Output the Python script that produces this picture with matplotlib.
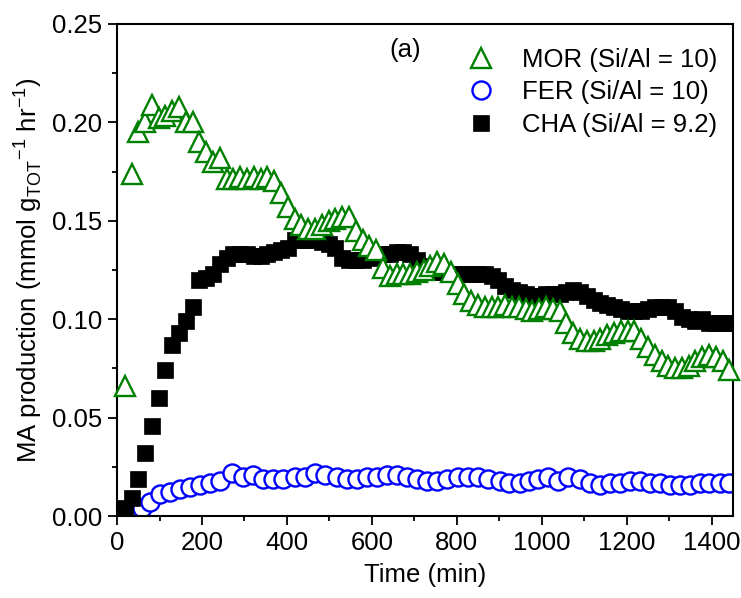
import numpy as np
import matplotlib
matplotlib.use('Agg')
import matplotlib.pyplot as plt
from matplotlib.ticker import MultipleLocator

plt.rcParams['font.family'] = ['Liberation Sans', 'DejaVu Sans']
plt.rcParams['mathtext.fontset'] = 'custom'
plt.rcParams['mathtext.rm'] = 'Liberation Sans'

# Time grid shared by MOR and CHA (min)
t_mc = [18, 34, 50, 66, 82, 98, 114, 130, 146, 162,
        178, 194, 210, 226, 242, 258, 274, 290, 306, 322,
        338, 354, 370, 386, 402, 418, 434, 450, 466, 482,
        498, 514, 530, 546, 562, 578, 594, 610, 626, 642,
        658, 674, 690, 706, 722, 738, 754, 770, 786, 802,
        818, 834, 850, 866, 882, 898, 914, 930, 946, 962,
        978, 994, 1010, 1026, 1042, 1058, 1074, 1090, 1106, 1122,
        1138, 1154, 1170, 1186, 1202, 1218, 1234, 1250, 1266, 1282,
        1298, 1314, 1330, 1346, 1362, 1378, 1394, 1410, 1426, 1442]

mor = [0.066, 0.174, 0.195, 0.200, 0.209, 0.202, 0.203, 0.206, 0.208, 0.200,
       0.200, 0.190, 0.185, 0.180, 0.182, 0.171, 0.171, 0.172, 0.171, 0.172,
       0.171, 0.172, 0.170, 0.164, 0.157, 0.151, 0.148, 0.146, 0.146, 0.148,
       0.150, 0.151, 0.152, 0.152, 0.145, 0.140, 0.137, 0.135, 0.126, 0.122,
       0.123, 0.123, 0.123, 0.124, 0.125, 0.127, 0.129, 0.128, 0.124, 0.118,
       0.113, 0.109, 0.107, 0.106, 0.106, 0.106, 0.107, 0.106, 0.106, 0.105,
       0.104, 0.105, 0.106, 0.105, 0.104, 0.098, 0.093, 0.090, 0.089, 0.089,
       0.090, 0.092, 0.093, 0.094, 0.094, 0.094, 0.090, 0.086, 0.082, 0.079,
       0.076, 0.075, 0.075, 0.076, 0.079, 0.081, 0.082, 0.081, 0.079, 0.074]

cha = [0.004, 0.009, 0.019, 0.032, 0.046, 0.060, 0.074, 0.087, 0.093, 0.099,
       0.106, 0.120, 0.121, 0.123, 0.128, 0.131, 0.133, 0.133, 0.133, 0.132,
       0.132, 0.133, 0.134, 0.135, 0.136, 0.140, 0.140, 0.140, 0.140, 0.139,
       0.138, 0.136, 0.131, 0.130, 0.130, 0.130, 0.131, 0.132, 0.133, 0.133,
       0.134, 0.134, 0.133, 0.130, 0.127, 0.125, 0.124, 0.124, 0.123, 0.123,
       0.123, 0.123, 0.123, 0.123, 0.122, 0.120, 0.117, 0.115, 0.114, 0.113,
       0.112, 0.112, 0.113, 0.113, 0.113, 0.114, 0.115, 0.114, 0.112, 0.110,
       0.108, 0.107, 0.106, 0.105, 0.104, 0.104, 0.104, 0.105, 0.106, 0.106,
       0.106, 0.104, 0.101, 0.100, 0.099, 0.100, 0.098, 0.098, 0.098, 0.098]

t_fer = [59, 78, 102, 125, 149, 172, 196, 219, 243, 271,
         297, 321, 344, 368, 391, 420, 443, 467, 490, 518,
         541, 565, 588, 612, 635, 659, 682, 706, 729, 753,
         776, 802, 826, 850, 873, 901, 924, 948, 971, 990,
         1014, 1038, 1061, 1089, 1113, 1136, 1160, 1184, 1207, 1231,
         1254, 1278, 1301, 1325, 1348, 1372, 1395, 1419, 1442]
fer = [0.004, 0.007, 0.011, 0.012, 0.014, 0.015, 0.016, 0.017, 0.018, 0.022,
       0.020, 0.021, 0.019, 0.019, 0.019, 0.020, 0.020, 0.022, 0.021, 0.020,
       0.019, 0.019, 0.020, 0.020, 0.021, 0.021, 0.020, 0.019, 0.018, 0.018,
       0.019, 0.020, 0.020, 0.020, 0.019, 0.018, 0.017, 0.017, 0.018, 0.019,
       0.020, 0.018, 0.020, 0.019, 0.017, 0.016, 0.017, 0.017, 0.018, 0.018,
       0.017, 0.017, 0.016, 0.016, 0.016, 0.017, 0.017, 0.017, 0.017]

labels = ['MOR (Si/Al = 10)', 'FER (Si/Al = 10)', 'CHA (Si/Al = 9.2)']

fs = 18.5
fig = plt.figure(figsize=(7.41, 5.98), dpi=100)
ax = fig.add_axes([0.158, 0.137, 0.831, 0.823])

ax.plot(t_mc, mor, ls='none', marker='^', ms=15, mfc='white', mec='green',
        mew=1.7, label=labels[0], clip_on=False, zorder=3)
ax.plot(t_fer, fer, ls='none', marker='o', ms=13, mfc='white', mec='blue',
        mew=1.7, label=labels[1], zorder=2)
ax.plot(t_mc, cha, ls='none', marker='s', ms=11.5, mfc='black', mec='black',
        mew=0.5, label=labels[2], zorder=2)

ax.set_xlim(0, 1450)
ax.set_ylim(0, 0.25)
ax.xaxis.set_major_locator(MultipleLocator(200))
ax.xaxis.set_minor_locator(MultipleLocator(100))
ax.yaxis.set_major_locator(MultipleLocator(0.05))
ax.yaxis.set_minor_locator(MultipleLocator(0.025))
ax.yaxis.set_major_formatter(matplotlib.ticker.FormatStrFormatter('%.2f'))
ax.tick_params(which='major', direction='out', length=6.5, width=1.3,
               labelsize=fs, pad=4, top=False, right=False)
ax.tick_params(which='minor', direction='out', length=3.5, width=1.3,
               top=False, right=False)
for s in ax.spines.values():
    s.set_linewidth(1.5)

ax.set_xlabel('Time (min)', fontsize=fs, labelpad=6)
ax.set_ylabel(r'MA production (mmol g$_{\mathregular{TOT}}$$^{\mathregular{-1}}$ hr$^{\mathregular{-1}}$)',
              fontsize=fs, labelpad=6)

ax.text(678, 0.237, '(a)', fontsize=fs, ha='center', va='center')
ax.legend(loc='upper right', frameon=False, fontsize=fs, handletextpad=0.6,
          labelspacing=0.32, borderaxespad=0.2, bbox_to_anchor=(1.0, 0.982))

fig.savefig('out.png', dpi=100)
